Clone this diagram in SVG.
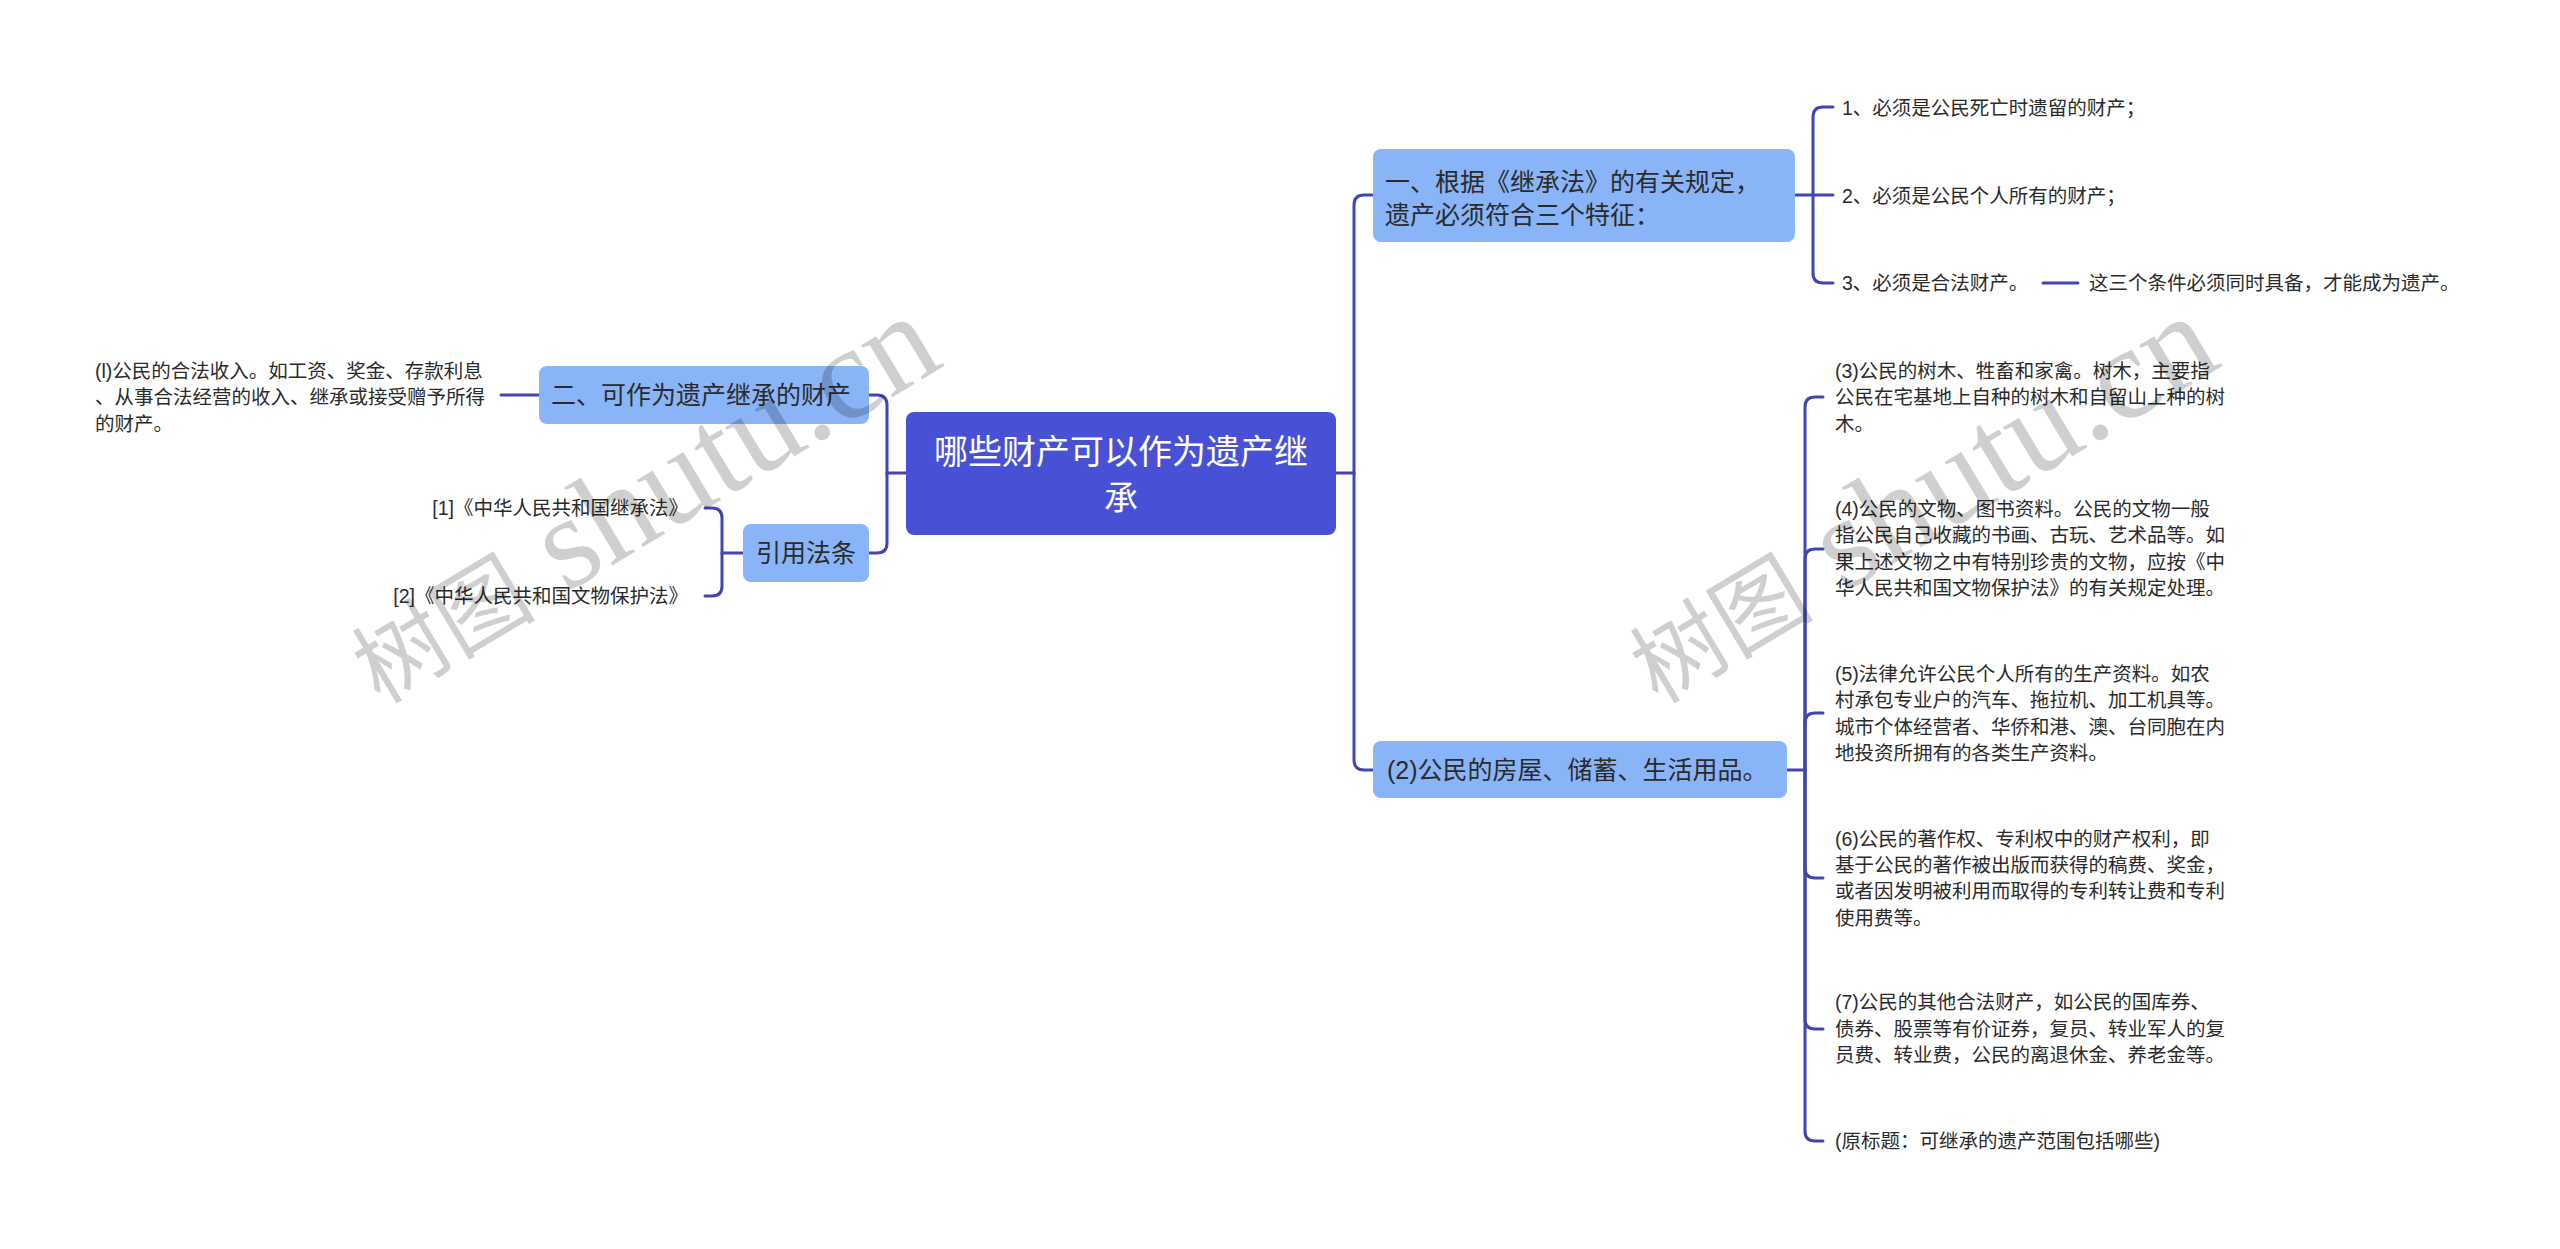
<svg xmlns="http://www.w3.org/2000/svg" width="2560" height="1249" viewBox="0 0 2560 1249">
<style>
text{font-family:"Liberation Sans","Noto Sans CJK SC",sans-serif;dominant-baseline:central}
.root{fill:#4851d6}
.n1{fill:#8ab4f8}
.t1{font-size:25px;fill:#2b2b2b}
.tr{font-size:34px;fill:#ffffff;text-anchor:middle}
.ts{font-size:19.5px;fill:#2b2b2b}
.end{text-anchor:end}
.c{fill:none;stroke:#3f46b2;stroke-width:3;stroke-linecap:round}
.wm{font-family:"Liberation Serif","Noto Sans CJK SC",serif;fill:#000;fill-opacity:0.19;dominant-baseline:auto}
</style>
<rect width="2560" height="1249" fill="#ffffff"/>
<g id="connectors">
<path class="c" d="M1336,473 H1354 V205 Q1354,195 1364,195 H1373"/>
<path class="c" d="M1354,473 V760 Q1354,770 1364,770 H1373"/>
<path class="c" d="M906,473 H887 V405 Q887,395 877,395 H869"/>
<path class="c" d="M887,473 V543 Q887,553 877,553 H869"/>
<path class="c" d="M539,395 H501"/>
<path class="c" d="M743,553 H722 V518 Q722,508 712,508 H705"/>
<path class="c" d="M722,553 V586 Q722,596 712,596 H705"/>
<path class="c" d="M1795,195 H1813 V117 Q1813,107 1823,107 H1833"/>
<path class="c" d="M1813,195 H1833"/>
<path class="c" d="M1813,195 V273 Q1813,283 1823,283 H1833"/>
<path class="c" d="M2043,283 H2078"/>
<path class="c" d="M1787,770 H1805 V407 Q1805,397 1815,397 H1823"/>
<path class="c" d="M1805,770 V559 Q1805,549 1815,549 H1823"/>
<path class="c" d="M1805,770 V723 Q1805,713 1815,713 H1823"/>
<path class="c" d="M1805,770 V868 Q1805,878 1815,878 H1823"/>
<path class="c" d="M1805,770 V1019 Q1805,1029 1815,1029 H1823"/>
<path class="c" d="M1805,770 V1131 Q1805,1141 1815,1141 H1823"/>
</g>
<g id="root">
<rect class="root" x="906" y="412" width="430" height="123" rx="8"/>
<text class="tr" x="1121" y="452">哪些财产可以作为遗产继</text>
<text class="tr" x="1121" y="498">承</text>
</g>
<g id="nodeA">
<rect class="n1" x="1373" y="149" width="422" height="93" rx="8"/>
<text class="t1" x="1385" y="182">一、根据《继承法》的有关规定，</text>
<text class="t1" x="1385" y="215">遗产必须符合三个特征：</text>
</g>
<g id="a1"><text class="ts" x="1842" y="108">1、必须是公民死亡时遗留的财产；</text></g>
<g id="a2"><text class="ts" x="1842" y="196">2、必须是公民个人所有的财产；</text></g>
<g id="a3"><text class="ts" x="1842" y="283">3、必须是合法财产。</text></g>
<g id="a3note"><text class="ts" x="2089" y="283">这三个条件必须同时具备，才能成为遗产。</text></g>
<g id="nodeB">
<rect class="n1" x="1373" y="741" width="414" height="57" rx="8"/>
<text class="t1" x="1387" y="770">(2)公民的房屋、储蓄、生活用品。</text>
</g>
<g id="b3">
<text class="ts" x="1835" y="371">(3)公民的树木、牲畜和家禽。树木，主要指</text>
<text class="ts" x="1835" y="397">公民在宅基地上自种的树木和自留山上种的树</text>
<text class="ts" x="1835" y="424">木。</text>
</g>
<g id="b4">
<text class="ts" x="1835" y="509">(4)公民的文物、图书资料。公民的文物一般</text>
<text class="ts" x="1835" y="535">指公民自己收藏的书画、古玩、艺术品等。如</text>
<text class="ts" x="1835" y="562">果上述文物之中有特别珍贵的文物，应按《中</text>
<text class="ts" x="1835" y="588">华人民共和国文物保护法》的有关规定处理。</text>
</g>
<g id="b5">
<text class="ts" x="1835" y="674">(5)法律允许公民个人所有的生产资料。如农</text>
<text class="ts" x="1835" y="700">村承包专业户的汽车、拖拉机、加工机具等。</text>
<text class="ts" x="1835" y="727">城市个体经营者、华侨和港、澳、台同胞在内</text>
<text class="ts" x="1835" y="753">地投资所拥有的各类生产资料。</text>
</g>
<g id="b6">
<text class="ts" x="1835" y="839">(6)公民的著作权、专利权中的财产权利，即</text>
<text class="ts" x="1835" y="865">基于公民的著作被出版而获得的稿费、奖金，</text>
<text class="ts" x="1835" y="891">或者因发明被利用而取得的专利转让费和专利</text>
<text class="ts" x="1835" y="918">使用费等。</text>
</g>
<g id="b7">
<text class="ts" x="1835" y="1002">(7)公民的其他合法财产，如公民的国库券、</text>
<text class="ts" x="1835" y="1029">债券、股票等有价证券，复员、转业军人的复</text>
<text class="ts" x="1835" y="1055">员费、转业费，公民的离退休金、养老金等。</text>
</g>
<g id="b8"><text class="ts" x="1835" y="1141">(原标题：可继承的遗产范围包括哪些)</text></g>
<g id="nodeC">
<rect class="n1" x="539" y="366" width="330" height="58" rx="8"/>
<text class="t1" x="551" y="395">二、可作为遗产继承的财产</text>
</g>
<g id="c1">
<text class="ts" x="95" y="371">(l)公民的合法收入。如工资、奖金、存款利息</text>
<text class="ts" x="95" y="397">、从事合法经营的收入、继承或接受赠予所得</text>
<text class="ts" x="95" y="424">的财产。</text>
</g>
<g id="nodeD">
<rect class="n1" x="743" y="524" width="126" height="58" rx="8"/>
<text class="t1" x="756" y="553">引用法条</text>
</g>
<g id="d1"><text class="ts end" x="688" y="508">[1]《中华人民共和国继承法》</text></g>
<g id="d2"><text class="ts end" x="688" y="596">[2]《中华人民共和国文物保护法》</text></g>
<text class="wm" transform="translate(380,705) rotate(-31)" font-size="132"><tspan font-size="92">树图</tspan> shutu.cn</text>
<text class="wm" transform="translate(1658,705) rotate(-31)" font-size="132"><tspan font-size="92">树图</tspan> shutu.cn</text>
</svg>
